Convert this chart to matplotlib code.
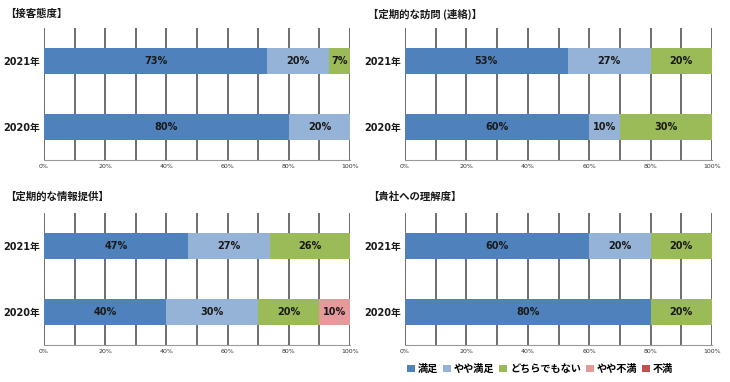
import matplotlib
matplotlib.use("Agg")
import matplotlib.pyplot as plt
from matplotlib.patches import Patch
import numpy as np

plt.rcParams['font.family'] = ['Noto Sans CJK JP', 'DejaVu Sans']
NUMFONT = ['DejaVu Sans', 'Noto Sans CJK JP']

titles = ["【接客態度】", "【定期的な訪問 (連絡)】", "【定期的な情報提供】", "【貴社への理解度】"]
years = ["2020年", "2021年"]
categories = ["満足", "やや満足", "どちらでもない", "やや不満", "不満"]
colors = ["#4F81BD", "#95B3D7", "#9BBB59", "#E6999A", "#C0504D"]

# values per panel: rows = years (2020, 2021), columns = categories
panel1 = [[80, 20, 0, 0, 0], [73, 20, 7, 0, 0]]
panel2 = [[60, 10, 30, 0, 0], [53, 27, 20, 0, 0]]
panel3 = [[40, 30, 20, 10, 0], [47, 27, 26, 0, 0]]
panel4 = [[80, 0, 20, 0, 0], [60, 20, 20, 0, 0]]
panels = [panel1, panel2, panel3, panel4]

xticks = [0, 20, 40, 60, 80, 100]
xticklabels = ["0%", "20%", "40%", "60%", "80%", "100%"]

W, H = 730, 382
fig = plt.figure(figsize=(W / 100, H / 100), dpi=100)

# axes pixel boxes: (left, top, right, bottom)
boxes = [(44, 28, 350, 160), (405, 28, 712, 160), (44, 213, 350, 345), (405, 213, 712, 345)]
title_pos = [(5, 14), (368, 14), (5, 197), (368, 197)]

for data, title, box, tp in zip(panels, titles, boxes, title_pos):
    l, t, r, b = box
    ax = fig.add_axes([l / W, 1 - b / H, (r - l) / W, (b - t) / H])
    ypos = np.arange(len(years))
    left = np.zeros(len(years))
    arr = np.array(data, dtype=float)
    for ci, cat in enumerate(categories):
        vals = arr[:, ci]
        ax.barh(ypos, vals, left=left, height=0.39, color=colors[ci], zorder=3)
        for yi, v in enumerate(vals):
            if v > 0:
                ax.text(left[yi] + v / 2, ypos[yi], f"{int(v)}%", ha="center", va="center",
                        fontsize=7, fontweight="bold", color="#1a1a1a", zorder=4,
                        family=NUMFONT)
        left += vals
    ax.set_xlim(0, 100)
    ax.set_ylim(-0.5, 1.5)
    ax.set_yticks(ypos)
    ax.set_yticklabels(years, fontsize=7, fontweight="bold", family=NUMFONT, color="#1a1a1a")
    ax.tick_params(axis="y", length=0, pad=3)
    ax.set_xticks(xticks)
    ax.set_xticklabels(xticklabels, fontsize=4.5, color="#333333", family=NUMFONT)
    ax.tick_params(axis="x", length=0, pad=3, which="both")
    for x in np.arange(0, 101, 10):
        ax.axvline(x, color="#555555", lw=1.2, zorder=1)
    for s in ["top", "right", "left"]:
        ax.spines[s].set_visible(False)
    ax.spines["bottom"].set_color("#999999")
    ax.spines["bottom"].set_linewidth(0.8)
    fig.text(tp[0] / W, 1 - tp[1] / H, title, ha="left", va="center",
             fontsize=7.5, fontweight="bold", color="#1a1a1a")

handles = [Patch(facecolor=c, edgecolor="none") for c in colors]
fig.legend(handles, categories, loc="center", bbox_to_anchor=(540 / W, 1 - 369 / H),
           ncol=5, frameon=False, handlelength=0.8, handleheight=0.8,
           handletextpad=0.3, columnspacing=0.45, prop={"weight": "bold", "size": 7.3})

fig.savefig("out.png", dpi=100)
